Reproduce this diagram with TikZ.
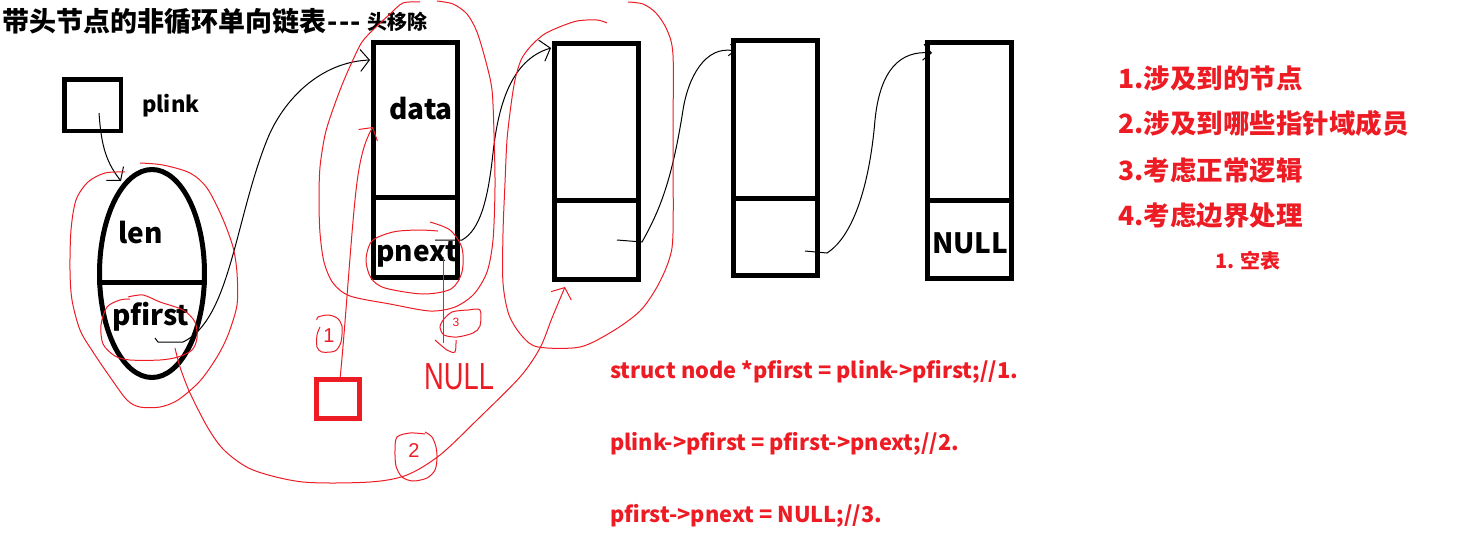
\documentclass[tikz,border=0pt]{standalone}
\usepackage{graphicx}
\usepackage{fontspec}
\setmainfont{Noto Sans CJK SC}
\newfontfamily\handfont{Liberation Sans}
\usetikzlibrary{arrows.meta,shapes.geometric}
\definecolor{pred}{RGB}{237,28,36}
\newcommand\fsz[1]{\fontsize{#1}{#1}\selectfont}
\begin{document}
\begin{tikzpicture}[x=1pt,y=-1pt,
  cell/.style={draw=black,line width=5pt,inner sep=0pt,minimum width=84pt},
  divider/.style={draw=black,line width=5pt},
  lbl/.style={anchor=base west,inner sep=0pt,font=\bfseries\fsz{28}},
  conn/.style={draw=black,line width=1pt,-{Straight Barb[length=9pt,width=22pt]}},
  hand/.style={draw=pred,line width=1pt},
  redarrow/.style={draw=pred,line width=1pt,-{Straight Barb[length=9pt,width=22pt]}},
  notes/.style={anchor=base west,inner sep=0pt,text=pred,font=\bfseries\fsz{26.5}},
  code/.style={anchor=base west,inner sep=0pt,text=pred,font=\bfseries\fsz{21.8}},
  handtxt/.style={inner sep=0pt,text=pred,font=\handfont\fsz{20}}]
\useasboundingbox (0,0) rectangle (1461,554);

% title
\node[anchor=base west,inner sep=0pt,font=\bfseries\fsz{27}] (title) at (2,31) {带头节点的非循环单向链表\kern1pt-\kern1.5pt-\kern1.5pt-};
\node[anchor=base west,inner sep=0pt,font=\bfseries\fsz{20}] (subtitle) at (367,29) {头移除};

% plink
\node[draw=black,line width=4.5pt,inner sep=0pt,minimum width=56.5pt,minimum height=51.5pt] (plink) at (92.5,105) {};
\node[lbl,font=\bfseries\fsz{22}] (plinklbl) at (142,112) {plink};

% head node (ellipse)
\node[draw=black,ellipse,line width=5pt,inner sep=0pt,minimum width=105pt,minimum height=208pt] (head) at (152,273.5) {};
\draw[divider] ([yshift=-8.5pt]head.west) -- ([yshift=-8.5pt]head.east);
\node[lbl] (len) at (118,243) {len};
\node[lbl] (pfirst) at (112,325) {pfirst};

% list nodes
\node[cell,minimum height=235.5pt] (n1) at (415.5,160) {};
\draw[divider] ([yshift=-37pt]n1.west) -- ([yshift=-37pt]n1.east);
\node[lbl] (data) at (389,119) {data};
\node[lbl] (pnext) at (376,261) {pnext};

\node[cell,minimum height=236.5pt] (n2) at (596.5,161.5) {};
\draw[divider] ([yshift=-38.5pt]n2.west) -- ([yshift=-38.5pt]n2.east);

\node[cell,minimum height=235.5pt] (n3) at (775.5,158) {};
\draw[divider] ([yshift=-40pt]n3.west) -- ([yshift=-40pt]n3.east);

\node[cell,minimum height=236.5pt] (n4) at (969.5,160.5) {};
\draw[divider] ([yshift=-39.5pt]n4.west) -- ([yshift=-39.5pt]n4.east);
\node[lbl] (null) at (932,253) {NULL};

% connector end points
\coordinate (plS) at (99,113);
\coordinate (headT) at (121,181);
\coordinate (pfS) at (155,338);
\coordinate (n1T) at (370,60);
\coordinate (p1S) at (435,240);
\coordinate (n2T) at (551,48);
\coordinate (p2S) at (617,240);
\coordinate (n3T) at (735,51);
\coordinate (p3S) at (805,251);
\coordinate (n4T) at (932,53);

% black connectors
\draw[conn] (plS) .. controls (101,140) and (104,160) .. (headT);
\draw[conn] (pfS) -- (158,342) -- (183,342) .. controls (230,320) and (235,220) .. (267,140)
   .. controls (283,100) and (320,62) .. (n1T);
\draw[conn] (p1S) -- (462,240) .. controls (480,230) and (488,200) .. (493,153)
   .. controls (498,108) and (510,60) .. (n2T);
\draw[draw=black,line width=1pt,-{Straight Barb[length=5pt,width=12pt]}] (p2S) -- (642,242) .. controls (660,210) and (672,180) .. (683,110)
   .. controls (688,78) and (705,45) .. (n3T);
\draw[draw=black,line width=1pt,-{Straight Barb[length=8pt,width=16pt]}] (p3S) -- (827,253) .. controls (855,235) and (870,180) .. (875,120)
   .. controls (880,70) and (900,50) .. (n4T);

% right notes
\node[notes] (note1) at (1118,88) {1.涉及到的节点};
\node[notes] (note2) at (1118,133) {2.涉及到哪些指针域成员};
\node[notes] (note3) at (1118,180) {3.考虑正常逻辑};
\node[notes] (note4) at (1118,225) {4.考虑边界处理};
\node[notes,font=\bfseries\fsz{20}] (note5) at (1215,268) {1. 空表};

% code
\node[code] (code1) at (610,378) {struct node *pfirst = plink->pfirst;//1.};
\node[code] (code2) at (610,450) {plink->pfirst = pfirst->pnext;//2.};
\node[code] (code3) at (610,522) {pfirst->pnext = NULL;//3.};

% red box and annotations
\node[draw=pred,line width=5pt,inner sep=0pt,minimum width=43pt,minimum height=39pt] (rbox) at (338,399) {};
\coordinate (rboxS) at (340,379);
\coordinate (n1L) at (373,127);
\draw[redarrow] (rboxS) .. controls (345,330) and (350,250) .. (355,200)
   .. controls (358,170) and (362,145) .. (n1L);

\coordinate (pnS) at (443,257);
\coordinate (pnE) at (443,343);
\draw[hand] (pnS) -- (pnE);

% loops
\draw[hand] plot[smooth] coordinates {(125,172) (105,173) (88,182) (76,200) (71,230) (70,270) (72,300) (80,330) (93,352) (110,377) (127,400) (140,407) (160,407) (178,400) (200,381) (217,357) (228,335) (237,305) (237,273) (233,247) (222,217) (207,188) (190,173) (163,165) (140,163)};
\draw[hand] plot[smooth] coordinates {(128,297) (143,295) (160,302) (183,310) (195,322) (197,338) (192,350) (178,357) (160,360) (130,360) (115,356) (103,344) (101,325) (107,307) (120,300) (130,299)};
\draw[redarrow] plot[smooth] coordinates {(175,348) (180,367) (190,393) (208,428) (225,451) (253,470) (303,482) (370,482) (407,475) (440,455) (477,420) (520,377) (540,348) (552,318) (565,287)};
\draw[hand] plot[smooth] coordinates {(420,2) (403,3) (390,14) (375,28) (362,42) (352,62) (342,85) (332,112) (325,135) (320,167) (319,200) (320,233) (324,262) (333,283) (350,296) (390,304) (430,311) (455,307) (474,294) (487,272) (493,240) (495,187) (494,133) (492,90) (486,62) (477,32) (467,14) (453,4) (437,1)};
\draw[hand] plot[smooth] coordinates {(438,231) (418,230) (393,232) (372,241) (366,260) (371,278) (385,288) (423,294) (451,289) (462,272) (462,248) (450,230) (430,222)};
\draw[hand] plot[smooth] coordinates {(607,23) (597,20) (577,21) (557,28) (543,35) (530,47) (521,60) (515,80) (511,105) (507,140) (505,183) (503,233) (503,283) (509,315) (522,336) (538,347) (580,347) (613,331) (640,311) (657,287) (669,260) (673,233) (673,133) (673,55) (667,30) (656,13) (643,4) (628,2)};

% circled numbers
\draw[hand] plot[smooth] coordinates {(320,327) (317,335) (317,347) (322,352) (335,351) (341,342) (342,326) (337,318) (328,315) (318,317) (317,320)};
\node[handtxt] (one) at (329,336) {1};
\draw[hand] plot[smooth] coordinates {(425,432) (432,437) (436,447) (437,458) (435,470) (427,478) (413,481) (402,477) (396,466) (395,450) (397,437) (410,433) (425,434)};
\node[handtxt] (two) at (414,451) {2};
\draw[hand] plot[smooth] coordinates {(443,320) (452,312) (468,310) (480,310) (480,326) (473,333) (457,337) (444,335) (440,327) (443,320)};
\draw[hand] plot[smooth] coordinates {(435,340) (447,350) (455,352) (456,340)};
\node[handtxt,font=\handfont\fsz{12}] (three) at (456,322) {3};
\node[anchor=base west,inner sep=0pt,text=pred,font=\handfont\fsz{26}] (hnull) at (424,389) {\scalebox{1.05}[1.45]{NULL}};
\end{tikzpicture}
\end{document}
